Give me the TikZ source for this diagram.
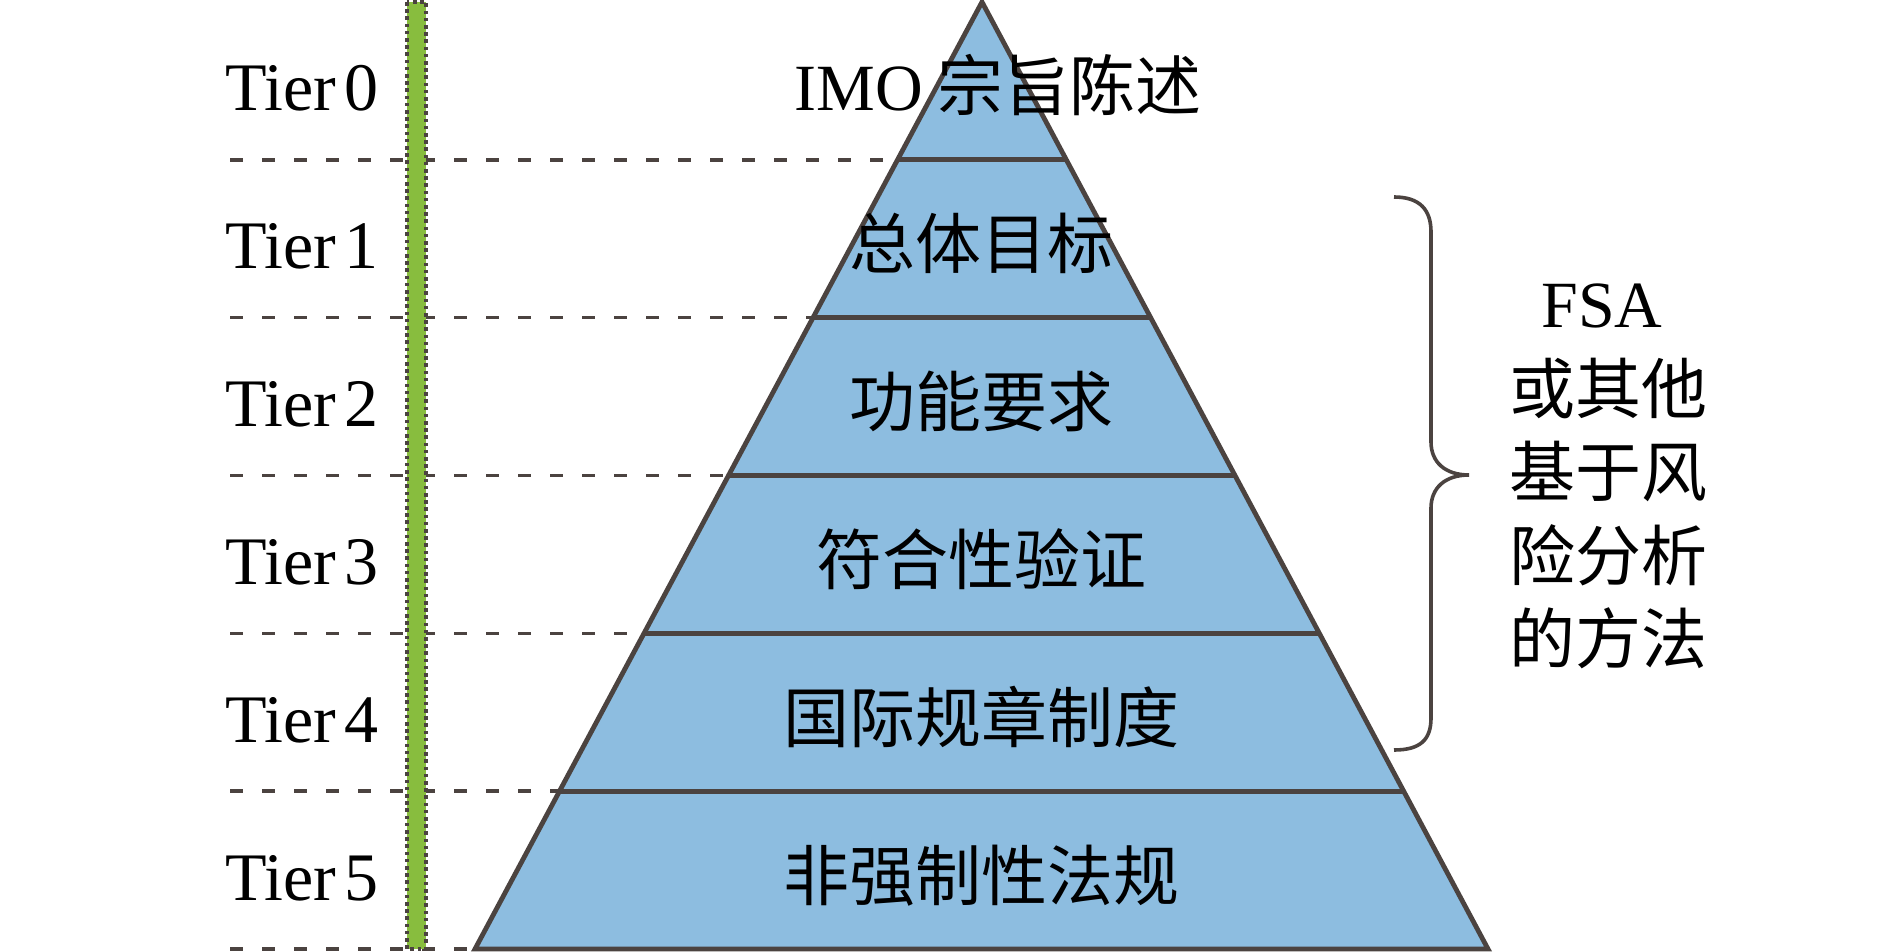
\documentclass[tikz,border=0pt]{standalone}
\usepackage{fontspec}
\setmainfont{Liberation Serif}
\newfontfamily\cjk{Noto Sans CJK SC}
\usetikzlibrary{calc}
\definecolor{pyrblue}{RGB}{141,189,224}
\definecolor{bargreen}{RGB}{136,189,62}
\definecolor{darkline}{RGB}{75,67,64}
\tikzset{
  tierlab/.style={anchor=base,inner sep=0pt,font=\fontsize{34}{36}\selectfont},
  layertxt/.style={anchor=base,inner sep=0pt,font=\fontsize{33}{36}\selectfont\cjk},
  sidetxt/.style={anchor=base,inner sep=0pt,font=\fontsize{33}{36}\selectfont\cjk},
  dashline/.style={draw=darkline,line width=1.8pt,dash pattern=on 6.5pt off 9.5pt},
  tierline/.style={draw=darkline,line width=2.4pt},
}
\begin{document}
\begin{tikzpicture}[x=0.5pt,y=-0.5pt]
\useasboundingbox (0,0) rectangle (1890,952);
% pyramid corners
\coordinate (A) at (982,2);
\coordinate (BL) at (475,949);
\coordinate (BR) at (1488,949);
\coordinate (X0) at (230,0);
\foreach \k in {1,...,5}{
  \coordinate (L\k) at ($(A)!\k/6!(BL)$);
  \coordinate (R\k) at ($(A)!\k/6!(BR)$);
}
% dashed guide lines
\foreach \k in {1,...,5}{
  \draw[dashline] (L\k -| X0) -- (L\k);
}
\draw[dashline] (BL -| X0) -- (BL);
% green bar
\draw[fill=bargreen,draw=darkline,line width=1.8pt,dash pattern=on 1.8pt off 1.8pt] (407,2) rectangle (426,949);
% pyramid
\draw[tierline,fill=pyrblue,line join=miter] (A) -- (BR) -- (BL) -- cycle;
\foreach \k in {1,...,5}{
  \draw[tierline] (L\k) -- (R\k);
}
% tier labels
\foreach \k in {0,...,5}{
  \node[tierlab] (t\k) at (302,{111+157.8*\k}) {Tier\hspace{4pt}\k};
}
% layer texts
\node[layertxt] (c0) at (998,111) {{\fontspec{Liberation Serif}IMO} 宗旨陈述};
\node[layertxt] (c1) at (981,268.8) {总体目标};
\node[layertxt] (c2) at (981,426.6) {功能要求};
\node[layertxt] (c3) at (981,584.4) {符合性验证};
\node[layertxt] (c4) at (981,742.2) {国际规章制度};
\node[layertxt] (c5) at (981,900) {非强制性法规};
% brace
\draw[darkline,line width=1.8pt] (1394,197) .. controls (1420,197) and (1431,210) .. (1431,232) -- (1431,442) .. controls (1431,462) and (1445,475) .. (1469,475) .. controls (1445,475) and (1431,488) .. (1431,508) -- (1431,718) .. controls (1431,740) and (1420,750) .. (1394,750);
% side text
\node[tierlab,font=\fontsize{33}{36}\selectfont] (s0) at (1602,328) {FSA};
\node[sidetxt] (s1) at (1608,413) {或其他};
\node[sidetxt] (s2) at (1608,496) {基于风};
\node[sidetxt] (s3) at (1608,580) {险分析};
\node[sidetxt] (s4) at (1608,663) {的方法};
\end{tikzpicture}
\end{document}
